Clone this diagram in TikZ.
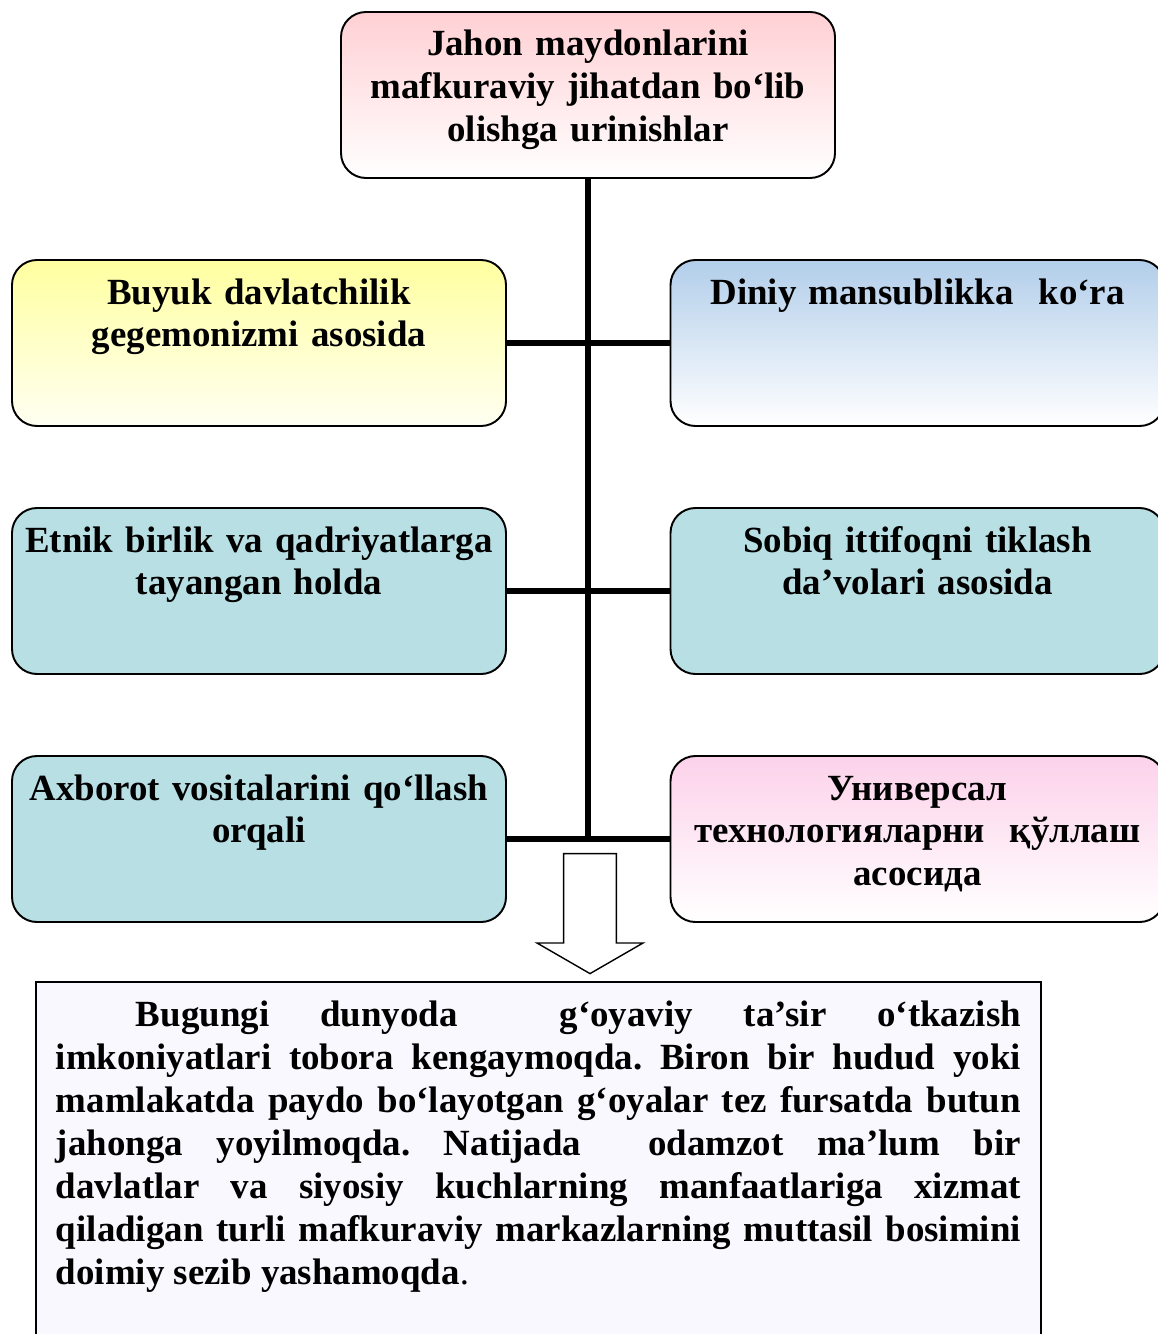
\documentclass[tikz,border=0pt]{standalone}
\usepackage{fontspec}
\setmainfont{Liberation Serif}
\usetikzlibrary{shapes.arrows, arrows}
\definecolor{pinktop}{RGB}{255,208,212}
\definecolor{yellowtop}{RGB}{255,255,160}
\definecolor{yellowbot}{RGB}{255,255,242}
\definecolor{bluetop}{RGB}{178,206,234}
\definecolor{tealfill}{RGB}{184,224,228}
\definecolor{rosetop}{RGB}{252,210,234}
\definecolor{lavender}{RGB}{250,248,255}
\tikzstyle{card} = [rectangle, rounded corners=0.5cm,
draw=black, line width=1.1pt,
text width=9.6cm, inner xsep=0.14cm, inner ysep=0pt,
text height=0.88cm, text depth=2.44cm,
align=center,
font=\fontsize{21}{24.4}\selectfont\bfseries]
\tikzstyle{link} = [line width=3pt]
\tikzstyle{downarrow} = [single arrow, draw=black, line width=0.8pt, fill=white,
shape border rotate=270, inner sep=0.51cm,
minimum height=2.4cm, minimum width=2.12cm,
single arrow head extend=0.53cm, single arrow tip angle=120]
\tikzstyle{textbox} = [rectangle, anchor=north west, draw=black, line width=1.1pt,
fill=lavender, text width=19.3cm, inner xsep=0.4cm, inner ysep=0pt,
text height=0.9cm, text depth=8cm, align=justify,
font=\fontsize{21}{24.4}\selectfont\bfseries\frenchspacing]

\begin{document}
\begin{tikzpicture}[node distance=4.96cm]
        \useasboundingbox (0,0) rectangle (23.14,-26.68);
        \node (jahon) [card, top color=pinktop, bottom color=white] at (11.76,-1.9) {Jahon maydonlarini\\mafkuraviy jihatdan bo‘lib\\olishga urinishlar};
        \node (buyuk) [card, top color=yellowtop, bottom color=yellowbot, below of=jahon, xshift=-6.58cm] {Buyuk davlatchilik\\gegemonizmi asosida};
        \node (diniy) [card, top color=bluetop, bottom color=white, below of=jahon, xshift=6.59cm] {Diniy mansublikka\ \ ko‘ra};
        \node (etnik) [card, fill=tealfill, below of=buyuk] {Etnik birlik va qadriyatlarga\\tayangan holda};
        \node (sobiq) [card, fill=tealfill, below of=diniy] {Sobiq ittifoqni tiklash\\da’volari asosida};
        \node (axborot) [card, fill=tealfill, below of=etnik] {Axborot vositalarini qo‘llash\\orqali};
        \node (univ) [card, top color=rosetop, bottom color=white, below of=sobiq] {Универсал\\технологияларни\ \ қўллаш\\асосида};
        \coordinate (hub) at (jahon |- axborot);
        \draw [link] (jahon) -- (hub);
        \draw [link] (buyuk) -- (diniy);
        \draw [link] (etnik) -- (sobiq);
        \draw [link] (axborot) -- (univ);
        \node (down) [downarrow] at (11.8,-18.12) {};
        \node (natija) [textbox] at (0.7,-19.62) {\hspace*{1.6cm}Bugungi dunyoda\ \ g‘oyaviy ta’sir o‘tkazish\linebreak imkoniyatlari tobora kengaymoqda. Biron bir hudud yoki\linebreak mamlakatda paydo bo‘layotgan g‘oyalar tez fursatda butun\linebreak jahonga yoyilmoqda. Natijada\ \ odamzot ma’lum bir\linebreak davlatlar va siyosiy kuchlarning manfaatlariga xizmat\linebreak qiladigan turli mafkuraviy markazlarning muttasil bosimini\linebreak doimiy sezib yashamoqda{\mdseries.}};
    \end{tikzpicture}
\end{document}
